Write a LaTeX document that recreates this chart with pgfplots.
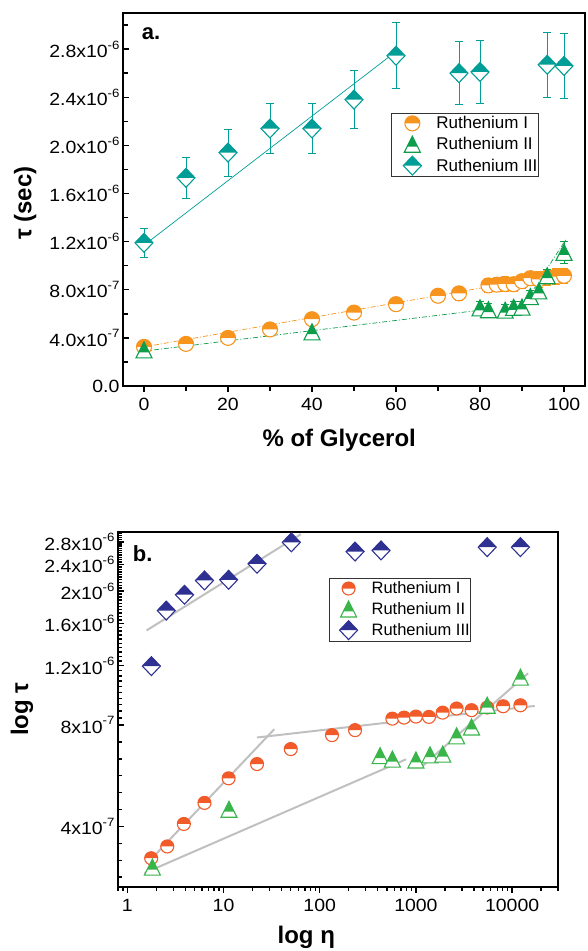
\documentclass[border=0pt]{standalone}
\usepackage{pgfplots}
\pgfplotsset{compat=1.18}
\usepackage{fontspec}
\setmainfont{Liberation Sans}
\newfontfamily\tickfam{Liberation Sans}[FakeStretch=1.1]
\usetikzlibrary{plotmarks}

\definecolor{oraA}{RGB}{247,148,29}
\definecolor{grnA}{RGB}{12,158,74}
\definecolor{tealA}{RGB}{0,158,150}
\definecolor{redB}{RGB}{241,90,41}
\definecolor{grnB}{RGB}{57,181,74}
\definecolor{navB}{RGB}{46,49,146}
\definecolor{fitgray}{RGB}{192,192,192}

\newcommand\defcirc[2]{\pgfdeclareplotmark{#1}{%
  \pgfpathcircle{\pgfpointorigin}{\pgfplotmarksize}%
  \pgfsetfillcolor{white}\pgfusepath{fill}%
  \pgfpathmoveto{\pgfqpoint{\pgfplotmarksize}{0pt}}%
  \pgfpatharc{0}{180}{\pgfplotmarksize}%
  \pgfpathclose
  \pgfsetfillcolor{#2}\pgfusepath{fill}%
  \pgfpathcircle{\pgfpointorigin}{\pgfplotmarksize}%
  \pgfusepath{stroke}}}
\newcommand\deftri[2]{\pgfdeclareplotmark{#1}{%
  \pgfpathmoveto{\pgfqpoint{0pt}{\pgfplotmarksize}}%
  \pgfpathlineto{\pgfqpoint{-\pgfplotmarksize}{-\pgfplotmarksize}}%
  \pgfpathlineto{\pgfqpoint{\pgfplotmarksize}{-\pgfplotmarksize}}%
  \pgfpathclose
  \pgfsetfillcolor{white}\pgfusepath{fill}%
  \pgfpathmoveto{\pgfqpoint{0pt}{\pgfplotmarksize}}%
  \pgfpathlineto{\pgfqpoint{-0.65\pgfplotmarksize}{-0.3\pgfplotmarksize}}%
  \pgfpathlineto{\pgfqpoint{0.65\pgfplotmarksize}{-0.3\pgfplotmarksize}}%
  \pgfpathclose
  \pgfsetfillcolor{#2}\pgfusepath{fill}%
  \pgfpathmoveto{\pgfqpoint{0pt}{\pgfplotmarksize}}%
  \pgfpathlineto{\pgfqpoint{-\pgfplotmarksize}{-\pgfplotmarksize}}%
  \pgfpathlineto{\pgfqpoint{\pgfplotmarksize}{-\pgfplotmarksize}}%
  \pgfpathclose
  \pgfusepath{stroke}}}
\newcommand\defdia[2]{\pgfdeclareplotmark{#1}{%
  \pgfpathmoveto{\pgfqpoint{0pt}{1.05\pgfplotmarksize}}%
  \pgfpathlineto{\pgfqpoint{\pgfplotmarksize}{0pt}}%
  \pgfpathlineto{\pgfqpoint{0pt}{-1.05\pgfplotmarksize}}%
  \pgfpathlineto{\pgfqpoint{-\pgfplotmarksize}{0pt}}%
  \pgfpathclose
  \pgfsetfillcolor{white}\pgfusepath{fill}%
  \pgfpathmoveto{\pgfqpoint{0pt}{1.05\pgfplotmarksize}}%
  \pgfpathlineto{\pgfqpoint{\pgfplotmarksize}{0pt}}%
  \pgfpathlineto{\pgfqpoint{-\pgfplotmarksize}{0pt}}%
  \pgfpathclose
  \pgfsetfillcolor{#2}\pgfusepath{fill}%
  \pgfpathmoveto{\pgfqpoint{0pt}{1.05\pgfplotmarksize}}%
  \pgfpathlineto{\pgfqpoint{\pgfplotmarksize}{0pt}}%
  \pgfpathlineto{\pgfqpoint{0pt}{-1.05\pgfplotmarksize}}%
  \pgfpathlineto{\pgfqpoint{-\pgfplotmarksize}{0pt}}%
  \pgfpathclose
  \pgfusepath{stroke}}}
\defcirc{hcircA}{oraA}
\deftri{htriA}{grnA}
\defdia{hdiaA}{tealA}
\defcirc{hcircB}{redB}
\deftri{htriB}{grnB}
\defdia{hdiaB}{navB}

\newcommand\tickfont{\tickfam\fontsize{17.7}{20}\selectfont}
\newcommand\labfont{\fontsize{24}{27}\selectfont\bfseries}
\newcommand\sps[1]{\raisebox{8.3pt}{\fontsize{12}{12}\selectfont #1}}

\pgfplotstableread{
x y e
0 3.25e-7 0.2e-7
10 3.5e-7 0.2e-7
20 4.0e-7 0.25e-7
30 4.7e-7 0.3e-7
40 5.55e-7 0.35e-7
50 6.1e-7 0.4e-7
60 6.8e-7 0.5e-7
70 7.5e-7 0.55e-7
75 7.7e-7 0.55e-7
82 8.36e-7 0.6e-7
84 8.42e-7 0.6e-7
86 8.48e-7 0.6e-7
88 8.46e-7 0.6e-7
90 8.71e-7 0.6e-7
92 8.96e-7 0.6e-7
94 8.86e-7 0.65e-7
96 9.02e-7 0.65e-7
98 9.10e-7 0.65e-7
100 9.16e-7 0.65e-7
}\ruIa
\pgfplotstableread{
x y e
0 3.0e-7 0.5e-7
40 4.5e-7 0.6e-7
80 6.49e-7 0.5e-7
82 6.34e-7 0.5e-7
86 6.30e-7 0.5e-7
88 6.53e-7 0.5e-7
90 6.56e-7 0.5e-7
92 7.43e-7 0.5e-7
94 7.9e-7 0.5e-7
96 9.16e-7 0.5e-7
100 1.11e-6 0.9e-7
}\ruIIa
\pgfplotstableread{
x y e
0 1.19e-6 0.12e-6
10 1.73e-6 0.17e-6
20 1.94e-6 0.195e-6
30 2.14e-6 0.21e-6
40 2.14e-6 0.21e-6
50 2.38e-6 0.24e-6
60 2.745e-6 0.275e-6
75 2.60e-6 0.26e-6
80 2.61e-6 0.26e-6
96 2.67e-6 0.27e-6
100 2.66e-6 0.27e-6
}\ruIIIa
\pgfplotstableread{
x y
1.77 3.22e-7
2.6 3.49e-7
3.87 4.07e-7
6.34 4.70e-7
11.3 5.56e-7
22.3 6.13e-7
50 6.79e-7
134 7.47e-7
233 7.73e-7
569 8.36e-7
753 8.42e-7
1000 8.48e-7
1367 8.46e-7
1897 8.71e-7
2650 8.96e-7
3790 8.86e-7
5510 9.02e-7
8070 9.10e-7
12200 9.16e-7
}\ruIb
\pgfplotstableread{
x y
1.82 3.03e-7
11.4 4.5e-7
424 6.49e-7
569 6.34e-7
1000 6.30e-7
1400 6.53e-7
1900 6.56e-7
2650 7.43e-7
3790 7.9e-7
5510 9.16e-7
12200 1.11e-6
}\ruIIb
\pgfplotstableread{
x y
1.78 1.197e-6
2.54 1.75e-6
3.93 1.95e-6
6.34 2.15e-6
11.3 2.16e-6
22.3 2.41e-6
50.7 2.79e-6
233 2.62e-6
434 2.64e-6
5510 2.70e-6
12200 2.70e-6
}\ruIIIb

\pgfplotsset{
  myleg/.style 2 args={
    legend cell align=left,
    legend style={anchor=north west, draw=black!80, line width=0.8pt,
      inner xsep=0pt, inner ysep=1pt, row sep=2pt,
      nodes={inner xsep=1pt, inner ysep=2.5pt}},
    legend image code/.code={\draw[##1] plot coordinates {(#1,0pt)}; \path[draw=none,fill=none] (0pt,0pt) (#2,0pt);},
  },
}

\begin{document}
\begin{tikzpicture}
\useasboundingbox (0,0) rectangle (588pt,951pt);

\begin{axis}[
  at={(123pt,565pt)}, anchor=south west,
  width=462pt, height=373pt, scale only axis,
  xmin=-5, xmax=105, ymin=0, ymax=3.1e-6,
  axis line style={line width=2.2pt},
  tick style={line width=1.4pt, black},
  major tick length=6pt, minor tick length=5pt,
  xtick pos=bottom, ytick pos=left,
  xtick align=outside, ytick align=inside,
  xtick={0,20,40,60,80,100}, xticklabels={0,20,40,60,80,100},
  minor xtick={10,30,50,70,90},
  scaled y ticks=false,
  ytick={0,4e-7,8e-7,1.2e-6,1.6e-6,2e-6,2.4e-6,2.8e-6},
  yticklabels={0.0,4.0x10\sps{-7},8.0x10\sps{-7},1.2x10\sps{-6},1.6x10\sps{-6},2.0x10\sps{-6},2.4x10\sps{-6},2.8x10\sps{-6}},
  minor ytick={2e-7,6e-7,1e-6,1.4e-6,1.8e-6,2.2e-6,2.6e-6,3e-6},
  xticklabel style={font=\tickfont, yshift=-3pt},
  yticklabel style={font=\tickfont},
  xlabel={\% of Glycerol},
  xlabel style={at={(axis description cs:0.468,-0.163)}, anchor=base, font=\labfont},
  ylabel={τ (sec)},
  ylabel style={at={(axis description cs:-0.212,0.49)}, anchor=center, font=\labfont},
  myleg={21pt}{44pt},
  legend style={at={(axis description cs:0.58,0.733)}, font=\fontsize{17}{19}\selectfont},
]
\addplot[tealA, line width=0.7pt, forget plot] coordinates {(0,1.17e-6) (60,2.78e-6)};
\addplot[oraA, line width=0.7pt, dash pattern=on 5pt off 2pt on 1pt off 2pt, forget plot] coordinates {(0,0.325e-6) (100,0.935e-6)};
\addplot[grnA, line width=0.7pt, dash pattern=on 5pt off 2pt on 1pt off 2pt, forget plot] coordinates {(0,0.29e-6) (80,0.63e-6)};
\addplot[grnA, line width=0.7pt, dash pattern=on 5pt off 2pt on 1pt off 2pt, forget plot] coordinates {(89,0.60e-6) (100.5,1.22e-6)};

\addplot[only marks, color=oraA, mark=hcircA, mark size=7.5pt, mark options={line width=1.1pt},
  error bars/.cd, y dir=both, y explicit, error bar style={line width=0.9pt},
  error mark options={rotate=90, mark size=4pt, line width=0.9pt}]
  table[x=x, y=y, y error=e] {\ruIa};
\addplot[only marks, color=grnA, mark=htriA, mark size=8pt, mark options={line width=1.1pt},
  error bars/.cd, y dir=both, y explicit, error bar style={line width=0.9pt},
  error mark options={rotate=90, mark size=4pt, line width=0.9pt}]
  table[x=x, y=y, y error=e] {\ruIIa};
\addplot[only marks, color=tealA, mark=hdiaA, mark size=9pt, mark options={line width=1.1pt},
  error bars/.cd, y dir=both, y explicit, error bar style={line width=0.9pt},
  error mark options={rotate=90, mark size=4pt, line width=0.9pt}]
  table[x=x, y=y, y error=e] {\ruIIIa};
\legend{Ruthenium I, Ruthenium II, Ruthenium III}
\node[font=\fontsize{22}{24}\selectfont\bfseries, anchor=base west] at (axis description cs:0.033,0.928) {a.};
\end{axis}

\begin{axis}[
  at={(118pt,64.3pt)}, anchor=south west,
  width=440pt, height=355pt, scale only axis,
  xmode=log, ymode=log,
  xmin=0.8, xmax=30000, ymin=2.65e-7, ymax=3e-6,
  axis line style={line width=2.2pt},
  tick style={line width=1.4pt, black},
  major tick length=6pt, minor tick length=4pt,
  xtick pos=bottom, ytick pos=left,
  xtick align=outside, ytick align=inside,
  xtick={1,10,100,1000,10000}, xticklabels={1,10,100,1000,10000},
  minor xtick={0.8,0.9,2,3,4,5,6,7,8,9,20,30,40,50,60,70,80,90,200,300,400,500,600,700,800,900,2000,3000,4000,5000,6000,7000,8000,9000,20000,30000},
  ytick={4e-7,8e-7,1.2e-6,1.6e-6,2e-6,2.4e-6,2.8e-6},
  yticklabels={4x10\sps{-7},8x10\sps{-7},1.2x10\sps{-6},1.6x10\sps{-6},2x10\sps{-6},2.4x10\sps{-6},2.8x10\sps{-6}},
  minor ytick={2.83e-7,3.17e-7,3.56e-7,4.49e-7,5.04e-7,5.66e-7,6.35e-7,7.13e-7,8.4e-7,8.8e-7,9.2e-7,9.6e-7,1e-6,1.04e-6,1.08e-6,1.12e-6,1.16e-6,1.24e-6,1.28e-6,1.32e-6,1.36e-6,1.4e-6,1.44e-6,1.48e-6,1.52e-6,1.56e-6,1.64e-6,1.68e-6,1.72e-6,1.76e-6,1.8e-6,1.84e-6,1.88e-6,1.92e-6,1.96e-6,2.04e-6,2.08e-6,2.12e-6,2.16e-6,2.2e-6,2.24e-6,2.28e-6,2.32e-6,2.36e-6,2.44e-6,2.48e-6,2.52e-6,2.56e-6,2.6e-6,2.64e-6,2.68e-6,2.72e-6,2.76e-6,2.84e-6,2.88e-6,2.92e-6,2.96e-6},
  xticklabel style={font=\tickfont, yshift=-3pt},
  yticklabel style={font=\tickfont},
  xlabel={log η},
  xlabel style={at={(axis description cs:0.428,-0.161)}, anchor=base, font=\labfont},
  ylabel={log τ},
  ylabel style={at={(axis description cs:-0.218,0.5)}, anchor=center, font=\labfont},
  myleg={19pt}{41pt},
  legend style={at={(axis description cs:0.48,0.87)}, font=\fontsize{16.5}{19}\selectfont},
]
\addplot[fitgray, line width=2pt, forget plot] coordinates {(1.585,1.528e-6) (63.8,2.95e-6)};
\addplot[fitgray, line width=2pt, forget plot] coordinates {(1.61,3.11e-7) (33.7,7.78e-7)};
\addplot[fitgray, line width=2pt, forget plot] coordinates {(22.3,7.35e-7) (17200,9.12e-7)};
\addplot[fitgray, line width=2pt, forget plot] coordinates {(1.51,2.91e-7) (789,6.33e-7)};
\addplot[fitgray, line width=2pt, forget plot] coordinates {(1148,6.02e-7) (14650,1.14e-6)};

\addplot[only marks, color=redB, mark=hcircB, mark size=6.5pt, mark options={line width=1.1pt}] table[x=x, y=y] {\ruIb};
\addplot[only marks, color=grnB, mark=htriB, mark size=8pt, mark options={line width=1.1pt}] table[x=x, y=y] {\ruIIb};
\addplot[only marks, color=navB, mark=hdiaB, mark size=9pt, mark options={line width=1.1pt}] table[x=x, y=y] {\ruIIIb};
\legend{Ruthenium I, Ruthenium II, Ruthenium III}
\node[font=\fontsize{22}{24}\selectfont\bfseries, anchor=base west] at (axis description cs:0.026,0.915) {b.};
\end{axis}
\end{tikzpicture}
\end{document}
